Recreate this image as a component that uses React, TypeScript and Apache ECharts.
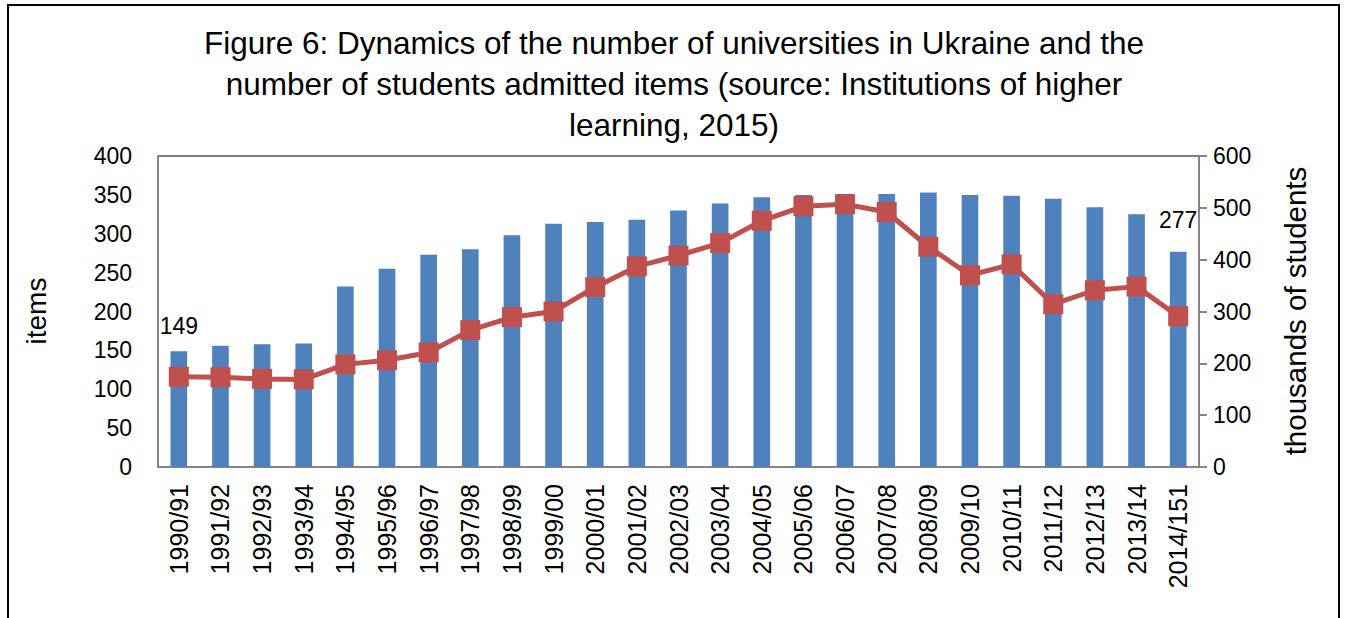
import React, { useEffect, useRef } from "react";
import * as echarts from "echarts";

const titleText =
  "Figure 6: Dynamics of the number of universities in Ukraine and the\nnumber of students admitted items (source: Institutions of higher\nlearning, 2015)";

const categories = [
  "1990/91", "1991/92", "1992/93", "1993/94", "1994/95", "1995/96", "1996/97",
  "1997/98", "1998/99", "1999/00", "2000/01", "2001/02", "2002/03", "2003/04",
  "2004/05", "2005/06", "2006/07", "2007/08", "2008/09", "2009/10", "2010/11",
  "2011/12", "2012/13", "2013/14", "2014/151",
];

// number of universities (items), left axis
const universities = [
  149, 156, 158, 159, 232, 255, 273, 280, 298, 313, 315, 318, 330, 339, 347,
  350, 351, 351, 353, 350, 349, 345, 334, 325, 277,
];

// admitted students (thousands), right axis
const students = [
  174, 173, 170, 169, 198, 206, 221, 264, 289, 300, 347, 387, 408, 432, 475,
  503, 507, 492, 425, 370, 391, 314, 341, 348, 291,
];

const leftTicks = { min: 0, max: 400, interval: 50 };
const rightTicks = { min: 0, max: 600, interval: 100 };

const labelledIdx = [0, universities.length - 1];

const FONT = "'Liberation Sans', Arial, sans-serif";

export default function App() {
  const ref = useRef<HTMLDivElement>(null);

  useEffect(() => {
    if (!ref.current) return;
    const chart = echarts.init(ref.current, null, { renderer: "svg" });
    chart.setOption({
      animation: false,
      backgroundColor: "#ffffff",
      textStyle: { fontFamily: FONT },
      title: {
        text: titleText,
        left: 674,
        top: 22,
        padding: 0,
        textAlign: "center",
        textStyle: {
          fontFamily: FONT,
          fontSize: 31.5,
          fontWeight: "normal",
          color: "#000",
          lineHeight: 41,
        },
      },
      grid: {
        left: 158,
        right: 147,
        top: 156,
        bottom: 151,
        show: true,
        borderColor: "#000",
        borderWidth: 1,
        backgroundColor: "transparent",
      },
      xAxis: {
        type: "category",
        data: categories,
        boundaryGap: true,
        axisLine: { lineStyle: { color: "#868686", width: 2 } },
        axisTick: { show: false },
        axisLabel: {
          rotate: 90,
          fontSize: 25,
          color: "#000",
          margin: 17,
          fontFamily: FONT,
          interval: 0,
        },
      },
      yAxis: [
        {
          type: "value",
          ...leftTicks,
          position: "left",
          axisLine: { show: true, lineStyle: { color: "#868686", width: 2 } },
          axisTick: { show: false },
          splitLine: { show: false },
          axisLabel: { fontSize: 23, color: "#000", margin: 26, fontFamily: FONT },
        },
        {
          type: "value",
          ...rightTicks,
          position: "right",
          axisLine: { show: true, lineStyle: { color: "#868686", width: 2 } },
          axisTick: { show: true, length: 8, lineStyle: { color: "#868686", width: 2 } },
          splitLine: { show: false },
          axisLabel: { fontSize: 23, color: "#000", margin: 14, fontFamily: FONT },
        },
      ],
      series: [
        {
          type: "bar",
          yAxisIndex: 0,
          data: universities.map((v, i) => ({
            value: v,
            label: {
              show: labelledIdx.includes(i),
              position: "top",
              distance: i === 0 ? 14 : 20,
              fontSize: 23,
              color: "#000",
              fontFamily: FONT,
            },
          })),
          barWidth: "40%",
          itemStyle: { color: "#4F81BD" },
          z: 2,
        },
        {
          type: "line",
          yAxisIndex: 1,
          data: students,
          symbol: "rect",
          symbolSize: 20,
          lineStyle: { color: "#C0504D", width: 5 },
          itemStyle: { color: "#C0504D" },
          z: 3,
        },
      ],
      graphic: [
        {
          type: "rect",
          shape: { x: 8, y: 5, width: 1331, height: 700 },
          style: { fill: "none", stroke: "#000", lineWidth: 2 },
          silent: true,
          z: 10,
        },
        {
          type: "text",
          x: 36,
          y: 311,
          rotation: Math.PI / 2,
          style: {
            text: "items",
            fontSize: 28,
            fontFamily: FONT,
            fill: "#000",
            align: "center",
            verticalAlign: "middle",
          },
        },
        {
          type: "text",
          x: 1295,
          y: 311,
          rotation: Math.PI / 2,
          style: {
            text: "thousands of students",
            fontSize: 29.5,
            fontFamily: FONT,
            fill: "#000",
            align: "center",
            verticalAlign: "middle",
          },
        },
      ],
    });
    return () => chart.dispose();
  }, []);

  return (
    <div
      ref={ref}
      style={{ position: "fixed", left: 0, top: 0, width: 1346, height: 618 }}
    />
  );
}
